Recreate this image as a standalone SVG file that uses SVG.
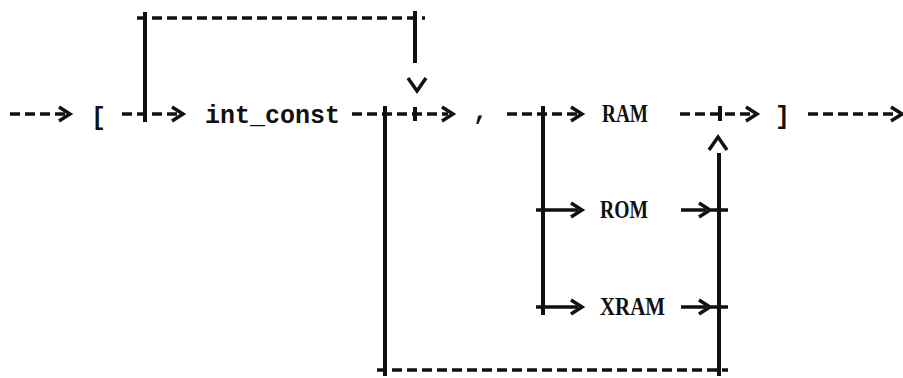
<svg xmlns="http://www.w3.org/2000/svg" width="903" height="378" viewBox="0 0 903 378">
<style>
.bg{fill:#ffffff}
.mono{font-family:"Liberation Mono","Courier New",monospace;font-size:25px;font-weight:bold;fill:#111}
.serif{font-family:"Liberation Serif","Times New Roman",serif;font-size:26px;font-weight:bold;fill:#111}
.dash{stroke:#111;stroke-width:3.5;stroke-dasharray:10 5;fill:none}
.solid{stroke:#111;stroke-width:3.5;fill:none}
.vert{stroke:#111;stroke-width:4;fill:none}
.head{stroke:#111;stroke-width:3.5;fill:none;stroke-linejoin:miter}
</style>
<rect class="bg" x="0" y="0" width="903" height="378"/>
<g id="connectors">
  <path class="dash" d="M10,114 H66"/>
  <path class="head" d="M59,107 L70,114 L59,121"/>
  <path class="dash" d="M122,114 H178"/>
  <path class="head" d="M172,107 L183,114 L172,121"/>
  <path class="vert" d="M145,12 V122"/>
  <path class="dash" d="M137,18 H425"/>
  <path class="vert" d="M415,11 V63"/>
  <path class="head" d="M408,78 L417,91 L426,78"/>
  <path class="vert" d="M415,107 V121"/>
  <path class="dash" d="M352,114 H448"/>
  <path class="head" d="M442,107 L453,114 L442,121"/>
  <path class="vert" d="M385,106 V376"/>
  <path class="dash" d="M377,370 H728"/>
  <path class="dash" d="M507,114 H578"/>
  <path class="head" d="M571,107 L582,114 L571,121"/>
  <path class="vert" d="M543,106 V315"/>
  <path class="solid" d="M536,210 H578"/>
  <path class="head" d="M571,203 L582,210 L571,217"/>
  <path class="solid" d="M536,307 H578"/>
  <path class="head" d="M571,300 L582,307 L571,314"/>
  <path class="dash" d="M680,114 H753"/>
  <path class="head" d="M746,107 L757,114 L746,121"/>
  <path class="vert" d="M720,106 V121"/>
  <path class="head" d="M709,150 L718,137 L727,150"/>
  <path class="vert" d="M719,153 V376"/>
  <path class="solid" d="M681,210 H706"/>
  <path class="head" d="M699,203 L710,210 L699,217"/>
  <path class="solid" d="M711,210 H728"/>
  <path class="solid" d="M681,307 H706"/>
  <path class="head" d="M699,300 L710,307 L699,314"/>
  <path class="solid" d="M711,307 H728"/>
  <path class="dash" d="M808,114 H898"/>
  <path class="head" d="M891,107 L902,114 L891,121"/>
</g>
<g id="node-lbracket"><text class="mono" x="91" y="125">[</text></g>
<g id="node-int_const"><text class="mono" x="205" y="123">int_const</text></g>
<g id="node-comma"><text class="mono" x="473" y="119">,</text></g>
<g id="node-RAM"><text class="serif" x="602" y="122" textLength="46" lengthAdjust="spacingAndGlyphs">RAM</text></g>
<g id="node-ROM"><text class="serif" x="600" y="218" textLength="48" lengthAdjust="spacingAndGlyphs">ROM</text></g>
<g id="node-XRAM"><text class="serif" x="600" y="315" textLength="65" lengthAdjust="spacingAndGlyphs">XRAM</text></g>
<g id="node-rbracket"><text class="mono" x="775" y="124">]</text></g>
</svg>
